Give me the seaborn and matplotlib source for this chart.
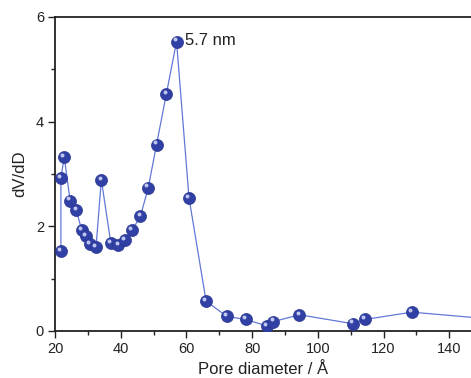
import matplotlib
matplotlib.use("Agg")
import matplotlib.pyplot as plt
import matplotlib.transforms as mtransforms
from matplotlib.ticker import MultipleLocator
import seaborn as sns
import pandas as pd

pore_diameter = [21.8, 21.8, 22.8, 24.6, 26.5, 28.1, 29.5, 30.7, 32.5, 34.1, 37.0, 39.3,
                 41.4, 43.5, 46.0, 48.4, 50.9, 53.9, 57.0, 60.8, 66.0, 72.3, 78.0,
                 84.4, 86.5, 94.4, 110.6, 114.3, 128.6, 160.0]
dvdd = [1.52, 2.92, 3.33, 2.49, 2.31, 1.93, 1.82, 1.66, 1.61, 2.89, 1.68, 1.64,
        1.73, 1.93, 2.19, 2.74, 3.56, 4.53, 5.53, 2.54, 0.57, 0.28, 0.22,
        0.10, 0.18, 0.31, 0.14, 0.22, 0.36, 0.19]
peak_label = "5.7 nm"

df = pd.DataFrame({"x": pore_diameter, "y": dvdd})

sns.set_theme(style="white")
plt.rcParams["font.family"] = ["Liberation Sans", "DejaVu Sans"]

fig = plt.figure(figsize=(4.71, 3.78), dpi=100)
ax = fig.add_axes([55/471, 47/378, 1 - 55/471, 314/378])

sns.lineplot(data=df, x="x", y="y", ax=ax, color="#6278d6", lw=0.9, sort=False,
             estimator=None, zorder=2)
sns.scatterplot(data=df, x="x", y="y", ax=ax, s=75, color="#3040a4",
                edgecolor="#2a3790", linewidth=0.5, zorder=3)
hl = mtransforms.offset_copy(ax.transData, fig=fig, x=-1.3, y=1.6, units="points")
ax.scatter(df["x"], df["y"], s=8, color="#d0d6f7", linewidths=0, zorder=4,
           transform=hl, alpha=0.9)

ax.set_xlim(20, 20 + (471 - 55) / (65.7 / 20))
ax.set_ylim(0, 6)
ax.xaxis.set_major_locator(MultipleLocator(20))
ax.xaxis.set_minor_locator(MultipleLocator(10))
ax.yaxis.set_major_locator(MultipleLocator(2))
ax.yaxis.set_minor_locator(MultipleLocator(1))
ax.tick_params(which="both", direction="out", bottom=True, left=True, top=False, right=False,
               colors="#222222", labelsize=10.5, width=1.0)
ax.tick_params(which="major", length=5, pad=3)
ax.tick_params(which="minor", length=3)
for s in ["left", "bottom", "top"]:
    ax.spines[s].set_color("#222222")
    ax.spines[s].set_linewidth(1.3)
ax.spines["right"].set_visible(False)

ax.set_xlabel("Pore diameter / Å", fontsize=12, color="#222222", labelpad=4)
ax.set_ylabel("dV/dD", fontsize=12, color="#222222", labelpad=6)

i = dvdd.index(max(dvdd))
ax.annotate(peak_label, (pore_diameter[i], dvdd[i]), xytext=(6, 1), textcoords="offset points",
            fontsize=12, color="#222222", va="center", ha="left")

fig.savefig("out.png", dpi=100)
